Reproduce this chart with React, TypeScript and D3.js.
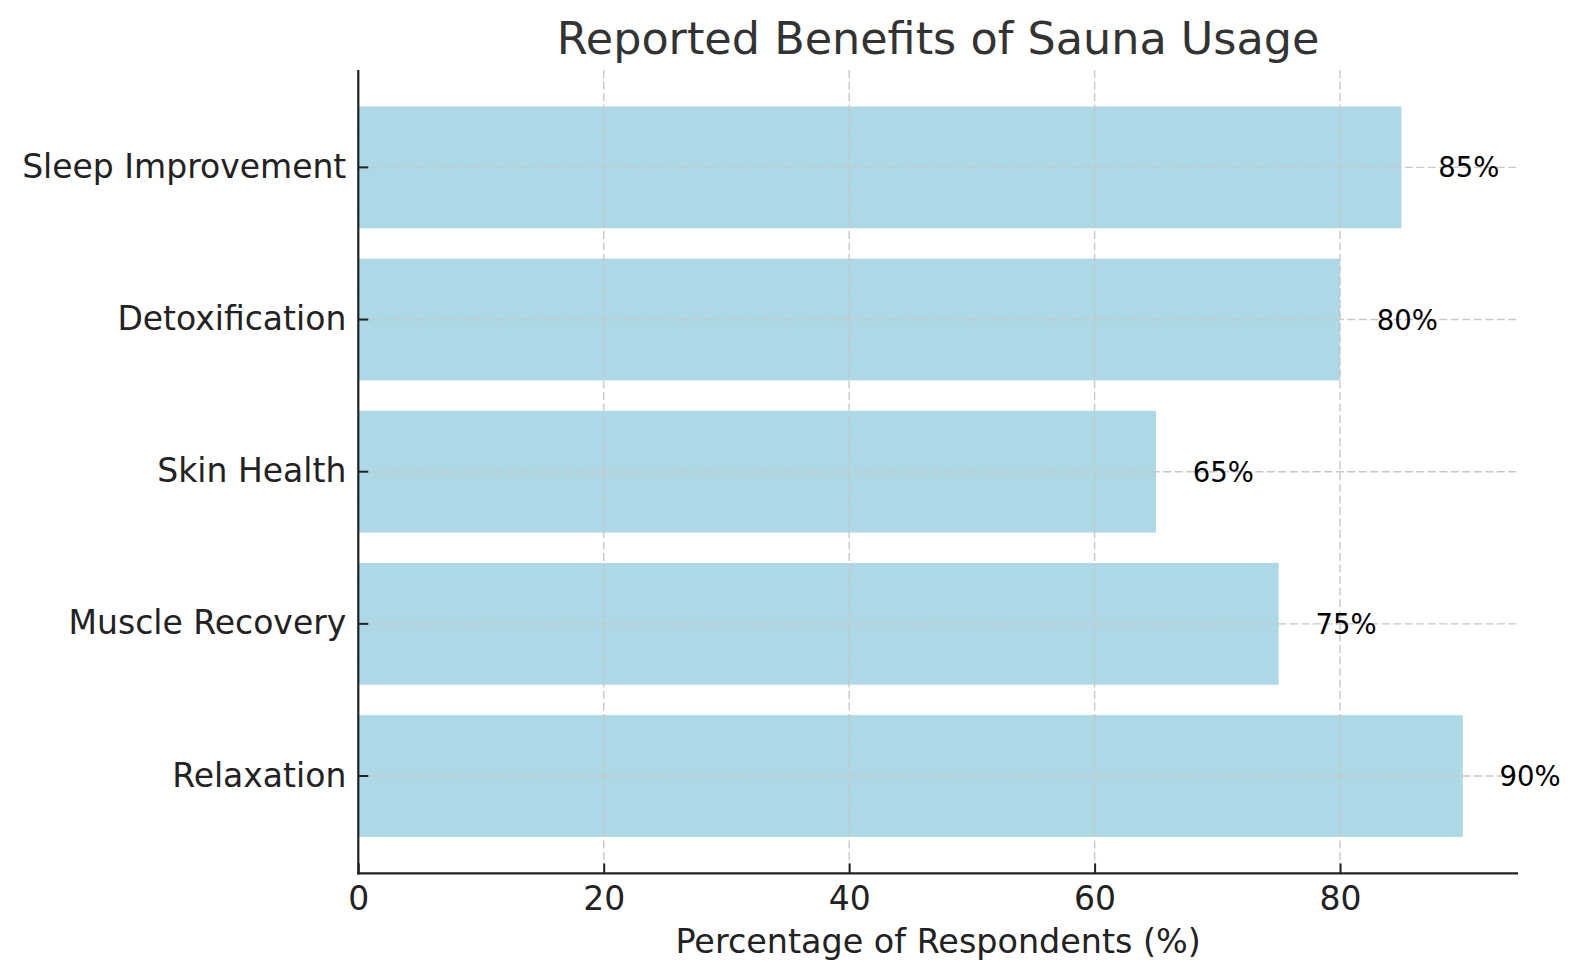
import React, { useEffect, useRef } from 'react';
import * as d3 from 'd3';

const categories = ['Relaxation', 'Muscle Recovery', 'Skin Health', 'Detoxification', 'Sleep Improvement'];
const percentages = [90, 75, 65, 80, 85];
const xTicks = [0, 20, 40, 60, 80];

const W = 1581;
const H = 980;

const App: React.FC = () => {
  const svgRef = useRef<SVGSVGElement>(null);

  useEffect(() => {
    if (!svgRef.current) return;
    document.body.style.margin = '0';
    const svg = d3.select(svgRef.current);
    svg.selectAll('*').remove();

    const left = 358.3, right = 1518, top = 70, bottom = 873.4;
    const font = 'DejaVu Sans, sans-serif';

    const x = d3.scaleLinear().domain([0, 94.5]).range([left, right]);
    // matplotlib draws the first category at the bottom
    const y = d3.scaleBand<string>()
      .domain([...categories].reverse())
      .range([top, bottom])
      .paddingInner(0.2)
      .paddingOuter(0.24);

    const data = categories.map((c, i) => ({ c, v: percentages[i] }));

    svg.append('g')
      .selectAll('rect')
      .data(data)
      .join('rect')
      .attr('x', x(0))
      .attr('y', d => y(d.c)!)
      .attr('width', d => x(d.v) - x(0))
      .attr('height', y.bandwidth())
      .attr('fill', '#add8e6');

    // grid on top of bars
    const grid = svg.append('g')
      .attr('stroke', '#c8c8c8')
      .attr('stroke-width', 1.4)
      .attr('stroke-dasharray', '8,3.5');
    grid.selectAll('line.v')
      .data(xTicks)
      .join('line')
      .attr('class', 'v')
      .attr('x1', d => x(d)).attr('x2', d => x(d))
      .attr('y1', top).attr('y2', bottom);
    grid.selectAll('line.h')
      .data(categories)
      .join('line')
      .attr('class', 'h')
      .attr('x1', left).attr('x2', right)
      .attr('y1', d => y(d)! + y.bandwidth() / 2)
      .attr('y2', d => y(d)! + y.bandwidth() / 2);

    // value labels
    svg.append('g')
      .selectAll('text')
      .data(data)
      .join('text')
      .attr('x', d => x(d.v + 3))
      .attr('y', d => y(d.c)! + y.bandwidth() / 2)
      .attr('dominant-baseline', 'central')
      .attr('font-family', font)
      .attr('font-size', 27.5)
      .attr('fill', '#000')
      .text(d => `${d.v}%`);

    // x axis
    const xAxis = svg.append('g')
      .attr('transform', `translate(0,${bottom})`)
      .call(d3.axisBottom(x).tickValues(xTicks).tickSize(-10).tickPadding(13).tickFormat(d3.format('d')));
    xAxis.select('.domain').remove();
    xAxis.selectAll('.tick line').attr('stroke', '#222').attr('stroke-width', 2);
    xAxis.selectAll('.tick text')
      .attr('font-family', font)
      .attr('font-size', 33)
      .attr('fill', '#222');

    // y axis
    const yAxis = svg.append('g')
      .attr('transform', `translate(${left},0)`)
      .call(d3.axisLeft(y).tickSize(-10).tickPadding(12));
    yAxis.select('.domain').remove();
    yAxis.selectAll('.tick line').attr('stroke', '#222').attr('stroke-width', 2);
    yAxis.selectAll('.tick text')
      .attr('font-family', font)
      .attr('font-size', 33)
      .attr('fill', '#222');

    // spines
    svg.append('line')
      .attr('x1', left).attr('x2', left).attr('y1', top).attr('y2', bottom + 1.1)
      .attr('stroke', '#222').attr('stroke-width', 2.2);
    svg.append('line')
      .attr('x1', left - 1.1).attr('x2', right).attr('y1', bottom).attr('y2', bottom)
      .attr('stroke', '#222').attr('stroke-width', 2.2);

    svg.append('text')
      .attr('x', (left + right) / 2)
      .attr('y', 952.5)
      .attr('text-anchor', 'middle')
      .attr('font-family', font)
      .attr('font-size', 33.4)
      .attr('fill', '#222')
      .text('Percentage of Respondents (%)');

    svg.append('text')
      .attr('x', (left + right) / 2)
      .attr('y', 54)
      .attr('text-anchor', 'middle')
      .attr('font-family', font)
      .attr('font-size', 44.5)
      .attr('fill', '#333')
      .text('Reported Benefits of Sauna Usage');
  }, []);

  return (
    <div style={{ position: 'absolute', left: 0, top: 0 }}>
      <svg ref={svgRef} width={W} height={H} style={{ display: 'block', background: '#fff' }} />
    </div>
  );
};

export default App;
